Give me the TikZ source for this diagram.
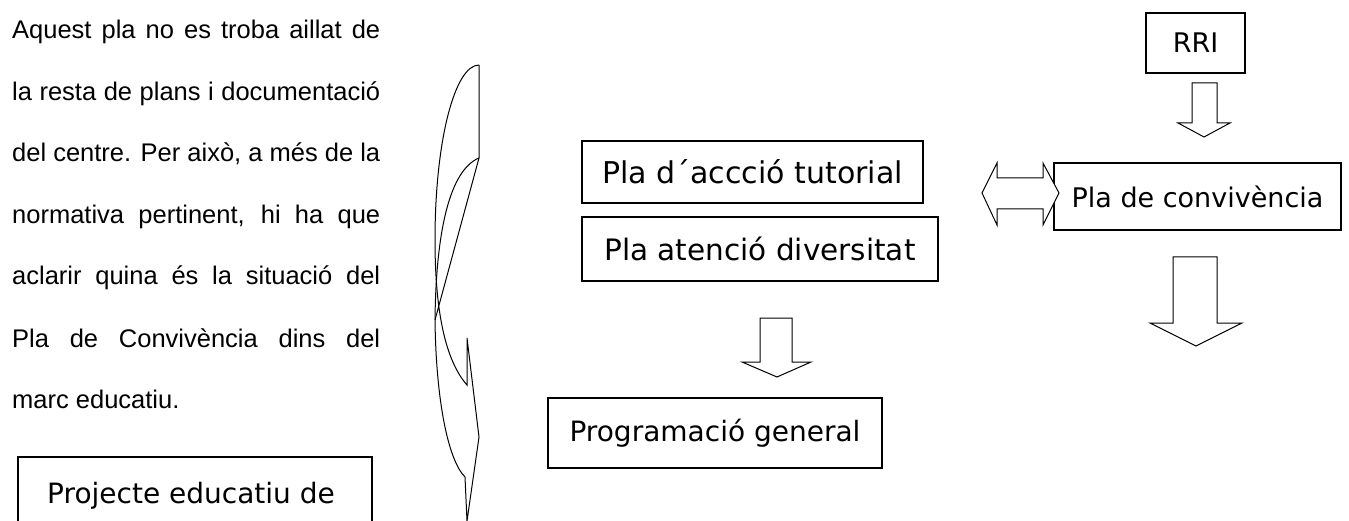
\documentclass[tikz,border=0pt]{standalone}
\usepackage{fontspec}
\setmainfont{Liberation Sans}
\newfontfamily\comicfont{DejaVu Sans}
\begin{document}
\begin{tikzpicture}[x=1pt,y=-1pt,
  box/.style={draw,line width=1.2pt,inner sep=0pt},
  fs/.style={font=\comicfont\fontsize{#1}{#1}\selectfont},
  blk/.style={draw,line width=1pt,fill=white,line join=miter},
  para/.style={anchor=base west,inner sep=0pt,font=\fontsize{25.5}{28}\selectfont}]
\useasboundingbox (0,0) rectangle (1349,521);
\clip (0,0) rectangle (1349,521);
% paragraph
\node[para] (l1) at (12,39) {\makebox[368pt][s]{Aquest pla no es troba aillat de}};
\node[para] (l2) at (12,101) {\makebox[368pt][s]{la resta de plans i documentació}};
\node[para] (l3) at (12,162) {\makebox[368pt][s]{del centre. Per això, a més de la}};
\node[para] (l4) at (12,224) {\makebox[368pt][s]{normativa pertinent, hi ha que}};
\node[para] (l5) at (12,285) {\makebox[368pt][s]{aclarir quina és la situació del}};
\node[para] (l6) at (12,347) {\makebox[368pt][s]{Pla de Convivència dins del}};
\node[para] (l7) at (12,408) {marc educatiu.};
% boxes
\node[box,fs=27,minimum width=99pt,minimum height=60pt] (rri) at (1195.5,43) {RRI};
\node[box,fs=27,minimum width=287pt,minimum height=67pt] (conv) at (1197.5,196.5) {Pla de convivència};
\node[box,fs=30,minimum width=341pt,minimum height=62pt] (tut) at (752.5,172) {Pla d´accció tutorial};
\node[box,fs=29.5,minimum width=356pt,minimum height=64pt] (div) at (760,249) {Pla atenció diversitat};
\node[box,fs=28,minimum width=334pt,minimum height=70pt] (prog) at (715,433) {Programació general};
\node[inner sep=0pt,fs=28,anchor=base west] (proj) at (47,503) {Projecte educatiu de};
\draw[line width=1.2pt] (18,540) |- (372,457) -- (372,540);
% block arrows
\draw[blk] (1192,83) -- (1217,83) -- (1217,123) -- (1230,123) -- (1204,137) -- (1178,123) -- (1192,123) -- cycle;
\draw[blk] (982,193) -- (997,163) -- (997,178) -- (1043,178) -- (1043,163) -- (1059,193) -- (1043,225) -- (1043,209) -- (997,209) -- (997,225) -- cycle;
\draw[blk] (1173,257) -- (1217,257) -- (1217,323) -- (1242,323) -- (1196,346) -- (1150,323) -- (1173,323) -- cycle;
\draw[blk] (760,318) -- (792,318) -- (792,362) -- (811,362) -- (777,377) -- (742,362) -- (760,362) -- cycle;
% brace
\draw[line width=1pt,line join=miter] (479,65) -- (479,158) -- (435,320)
  .. controls (436,400) and (448,460) .. (465,477) -- (467,521) -- (479,437) -- (467,338) -- (467,385)
  .. controls (445,360) and (435,310) .. (435,240)
  .. controls (435,140) and (455,65) .. (479,65);
\draw[line width=1pt] (479,158) .. controls (450,170) and (436,230) .. (435,320);
\end{tikzpicture}
\end{document}
